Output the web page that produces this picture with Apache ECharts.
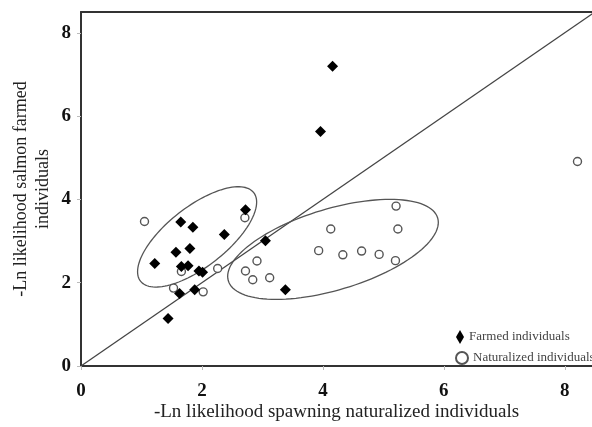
<!DOCTYPE html>
<html>
<head>
<meta charset="utf-8">
<script src="https://cdn.jsdelivr.net/npm/echarts@6.0.0/dist/echarts.min.js"></script>
<style>
  html, body { margin: 0; padding: 0; background: #fff; }
  #main { width: 592px; height: 427px; }
</style>
</head>
<body>
<div id="main"></div>
<script>
// data
var farmedX = [4.16, 3.96, 2.72, 1.65, 1.85, 2.37, 3.05, 1.57, 1.80, 1.22, 1.66, 1.77, 1.95, 2.01, 1.63, 1.88, 1.44, 3.38];
var farmedY = [7.20, 5.63, 3.75, 3.46, 3.33, 3.16, 3.01, 2.73, 2.82, 2.46, 2.39, 2.41, 2.28, 2.25, 1.74, 1.83, 1.14, 1.83];
var natX = [1.05, 2.71, 1.66, 2.26, 1.53, 2.02, 2.91, 2.72, 2.84, 3.12, 4.13, 3.93, 4.33, 4.64, 4.93, 5.21, 5.24, 5.20, 8.21];
var natY = [3.47, 3.56, 2.27, 2.34, 1.87, 1.78, 2.52, 2.28, 2.07, 2.12, 3.29, 2.77, 2.67, 2.76, 2.68, 3.84, 3.29, 2.53, 4.91];
// 1:1 line
var refX = [0, 8.5];
var refY = [0, 8.5];
// ellipses: centre x, centre y, half major axis (dx, dy), half minor axis (dx, dy)
var ellipseFarmed = [1.92, 3.10, 0.936, 1.063, 0.305, -0.566];
var ellipseNat = [4.167, 2.80, 1.731, 0.755, 0.193, -0.933];

var serif = 'Liberation Serif';

function zip(xs, ys) {
  return xs.map(function (x, i) { return [x, ys[i]]; });
}

function renderEllipse(params, api) {
  var cx = api.value(0), cy = api.value(1);
  var ux = api.value(2), uy = api.value(3);
  var vx = api.value(4), vy = api.value(5);
  var pts = [];
  for (var i = 0; i <= 120; i++) {
    var t = i / 120 * Math.PI * 2;
    pts.push(api.coord([cx + ux * Math.cos(t) + vx * Math.sin(t),
                        cy + uy * Math.cos(t) + vy * Math.sin(t)]));
  }
  return {
    type: 'polyline',
    shape: { points: pts },
    style: { fill: null, stroke: '#555', lineWidth: 1.3 }
  };
}

var legendText = { fontFamily: serif, fontSize: 13, color: '#444' };

var option = {
  backgroundColor: '#fff',
  animation: false,
  grid: { left: 81, right: 0, top: 12, bottom: 61, outerBoundsMode: 'none' },
  legend: [
    {
      data: [{ name: 'Farmed individuals', icon: 'diamond' }],
      left: 456, top: 330, padding: 0,
      itemWidth: 8, itemHeight: 14, itemGap: 4,
      selectedMode: false, textStyle: legendText
    },
    {
      data: [{ name: 'Naturalized individuals', icon: 'circle' }],
      left: 455, top: 351, padding: 0,
      itemWidth: 12, itemHeight: 12, itemGap: 4,
      selectedMode: false, textStyle: legendText
    }
  ],
  xAxis: [
    {
      type: 'value', min: 0, max: 8.45, interval: 2,
      name: '-Ln likelihood spawning naturalized individuals',
      nameLocation: 'middle', nameGap: 37, nameMoveOverlap: false,
      nameTextStyle: { fontFamily: serif, fontSize: 19, color: '#222' },
      axisLine: { show: true, onZero: false, lineStyle: { color: '#333', width: 2 } },
      axisTick: { show: true, length: 4, lineStyle: { color: '#bbb' } },
      splitLine: { show: false },
      axisLabel: { fontFamily: serif, fontWeight: 'bold', fontSize: 19, color: '#111', margin: 16, showMaxLabel: false }
    },
    {
      type: 'value', position: 'top', min: 0, max: 8.45,
      axisLine: { show: true, onZero: false, lineStyle: { color: '#333', width: 2 } },
      axisTick: { show: false }, axisLabel: { show: false }, splitLine: { show: false }
    }
  ],
  yAxis: {
    type: 'value', min: 0, max: 8.5, interval: 2,
    name: '-Ln likelihood salmon farmed\nindividuals',
    nameLocation: 'middle', nameGap: 27, nameMoveOverlap: false,
    nameTextStyle: { fontFamily: serif, fontSize: 18, lineHeight: 22, color: '#222' },
    axisLine: { show: true, onZero: false, lineStyle: { color: '#333', width: 2 } },
    axisTick: { show: true, length: 4, lineStyle: { color: '#bbb' } },
    splitLine: { show: false },
    axisLabel: { fontFamily: serif, fontWeight: 'bold', fontSize: 19, color: '#111', margin: 10, showMaxLabel: false }
  },
  series: [
    {
      type: 'line', data: zip(refX, refY), symbol: 'none', silent: true,
      lineStyle: { color: '#444', width: 1.3 }, z: 1
    },
    {
      type: 'custom', renderItem: renderEllipse, silent: true,
      dimensions: ['cx', 'cy', 'ux', 'uy', 'vx', 'vy'],
      encode: { x: 0, y: 1 },
      data: [ellipseFarmed, ellipseNat], z: 2
    },
    {
      name: 'Naturalized individuals', type: 'scatter', data: zip(natX, natY),
      symbol: 'circle', symbolSize: 8,
      itemStyle: { color: '#fff', borderColor: '#555', borderWidth: 1.4, opacity: 1 }, z: 3
    },
    {
      name: 'Farmed individuals', type: 'scatter', data: zip(farmedX, farmedY),
      symbol: 'diamond', symbolSize: [11, 11],
      itemStyle: { color: '#000', opacity: 1 }, z: 4
    }
  ]
};

var myChart = echarts.init(document.getElementById('main'));
myChart.setOption(option);
</script>
</body>
</html>
